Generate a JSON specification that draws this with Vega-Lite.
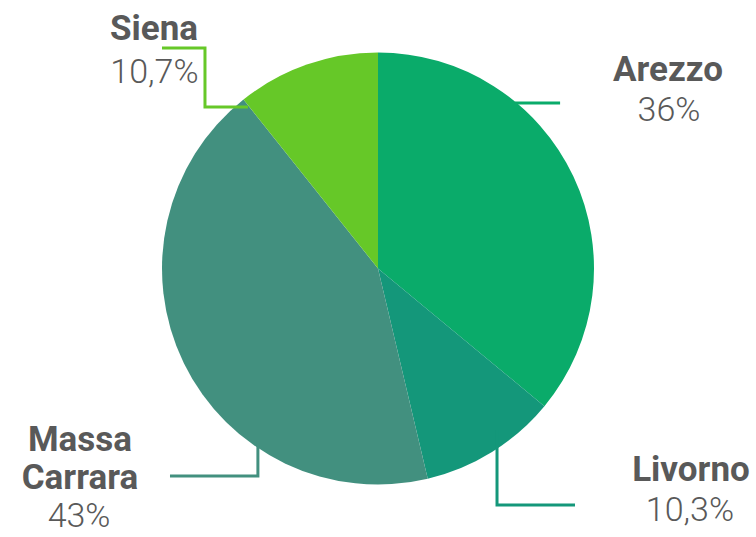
{
  "$schema": "https://vega.github.io/schema/vega-lite/v6.json",
  "width": 756,
  "height": 537,
  "autosize": {"type": "fit", "contains": "padding"},
  "padding": 0,
  "background": "white",
  "config": {"view": {"stroke": null}},
  "datasets": {
    "slices": [
      {"region": "Arezzo", "share": 36, "i": 1},
      {"region": "Livorno", "share": 10.3, "i": 2},
      {"region": "Massa Carrara", "share": 43, "i": 3},
      {"region": "Siena", "share": 10.7, "i": 4}
    ],
    "leaders": [
      {"region": "Siena", "k": 1, "x": -1.0, "y": 1.021},
      {"region": "Siena", "k": 2, "x": -0.801, "y": 1.021},
      {"region": "Siena", "k": 3, "x": -0.801, "y": 0.748},
      {"region": "Siena", "k": 4, "x": -0.602, "y": 0.748},
      {"region": "Arezzo", "k": 1, "x": 0.634, "y": 0.766},
      {"region": "Arezzo", "k": 2, "x": 0.843, "y": 0.766},
      {"region": "Livorno", "k": 1, "x": 0.551, "y": -0.748},
      {"region": "Livorno", "k": 2, "x": 0.551, "y": -1.095},
      {"region": "Livorno", "k": 3, "x": 0.912, "y": -1.095},
      {"region": "Massa Carrara", "k": 1, "x": -0.556, "y": -0.794},
      {"region": "Massa Carrara", "k": 2, "x": -0.556, "y": -0.961},
      {"region": "Massa Carrara", "k": 3, "x": -0.963, "y": -0.961}
    ],
    "names": [
      {"t": "Siena", "x": -1.037, "y": 1.11},
      {"t": "Arezzo", "x": 1.343, "y": 0.92},
      {"t": "Massa", "x": -1.38, "y": -0.794},
      {"t": "Carrara", "x": -1.38, "y": -0.97},
      {"t": "Livorno", "x": 1.449, "y": -0.933}
    ],
    "values": [
      {"t": "10,7%", "x": -1.035, "y": 0.905},
      {"t": "36%", "x": 1.347, "y": 0.73},
      {"t": "43%", "x": -1.384, "y": -1.15},
      {"t": "10,3%", "x": 1.444, "y": -1.122}
    ]
  },
  "layer": [
    {
      "data": {"name": "slices"},
      "mark": {"type": "arc", "outerRadius": 216, "stroke": null},
      "encoding": {
        "theta": {"field": "share", "type": "quantitative", "stack": true},
        "order": {"field": "i", "type": "quantitative"},
        "color": {
          "field": "region", "type": "nominal", "legend": null,
          "scale": {"domain": ["Arezzo", "Livorno", "Massa Carrara", "Siena"], "range": ["#0aab6a", "#14977a", "#42907f", "#66c828"]}
        }
      }
    },
    {
      "data": {"name": "leaders"},
      "mark": {"type": "line", "strokeWidth": 3, "interpolate": "linear"},
      "encoding": {
        "x": {"field": "x", "type": "quantitative", "axis": null, "scale": {"domain": [-1.75, 1.75], "nice": false, "zero": false}},
        "y": {"field": "y", "type": "quantitative", "axis": null, "scale": {"domain": [-1.243, 1.243], "nice": false, "zero": false}},
        "order": {"field": "k", "type": "quantitative"},
        "detail": {"field": "region", "type": "nominal"},
        "color": {"field": "region", "type": "nominal", "legend": null}
      }
    },
    {
      "data": {"name": "names"},
      "mark": {"type": "text", "font": "Roboto", "fontWeight": "bold", "fontSize": 35, "color": "#595959", "align": "center", "baseline": "middle"},
      "encoding": {
        "x": {"field": "x", "type": "quantitative"},
        "y": {"field": "y", "type": "quantitative"},
        "text": {"field": "t", "type": "nominal"}
      }
    },
    {
      "data": {"name": "values"},
      "mark": {"type": "text", "font": "Roboto", "fontWeight": 300, "fontSize": 34, "color": "#595959", "align": "center", "baseline": "middle"},
      "encoding": {
        "x": {"field": "x", "type": "quantitative"},
        "y": {"field": "y", "type": "quantitative"},
        "text": {"field": "t", "type": "nominal"}
      }
    }
  ]
}
